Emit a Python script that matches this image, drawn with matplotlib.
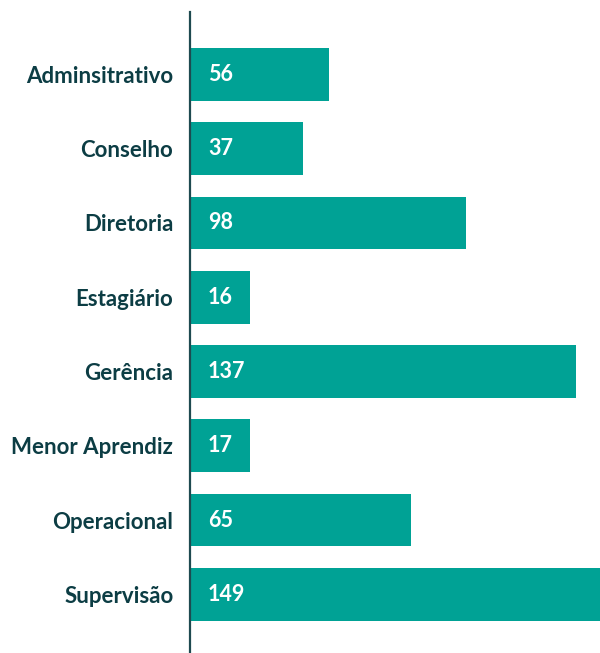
import matplotlib
matplotlib.use("Agg")
import matplotlib.pyplot as plt
import matplotlib.transforms as mtransforms

# data
categories = ["Adminsitrativo", "Conselho", "Diretoria", "Estagiário",
              "Gerência", "Menor Aprendiz", "Operacional", "Supervisão"]
counts = [56, 37, 98, 16, 137, 17, 65, 149]
# bar lengths as drawn in the reference (not proportional to the printed counts)
barLengths = [49.3, 40, 98, 21.3, 137, 21.3, 78.4, 149]

barColor = "#00A295"
textColor = "#0C3D44"
spineColor = "#1E4A50"

plt.rcParams["font.family"] = ["Lato", "DejaVu Sans"]

fig = plt.figure(figsize=(6.0, 6.53), dpi=100)
ax = fig.add_axes([190/600, 0, 410/600, 641/653])

ypos = list(range(len(categories)))
ax.barh(ypos, barLengths, height=0.71, color=barColor, zorder=2)

ax.set_xlim(0, 145.4)
ax.set_ylim(7.79, -0.84)

ax.set_yticks(ypos)
ax.set_yticklabels(categories, fontsize=16, fontweight="bold", color=textColor)
ax.tick_params(axis="y", length=0, pad=12)
ax.set_xticks([])

for side in ["top", "right", "bottom"]:
    ax.spines[side].set_visible(False)
ax.spines["left"].set_color(spineColor)
ax.spines["left"].set_linewidth(1.6)
ax.spines["left"].set_zorder(3)

# value labels, offset a fixed distance inside each bar
offset = mtransforms.offset_copy(ax.transData, fig=fig, x=18, y=0, units="dots")
for y, n in zip(ypos, counts):
    ax.text(0, y, str(n), transform=offset, ha="left", va="center",
            fontsize=15.5, fontweight="bold", color="white", zorder=4)

fig.savefig("out.png", dpi=100)
